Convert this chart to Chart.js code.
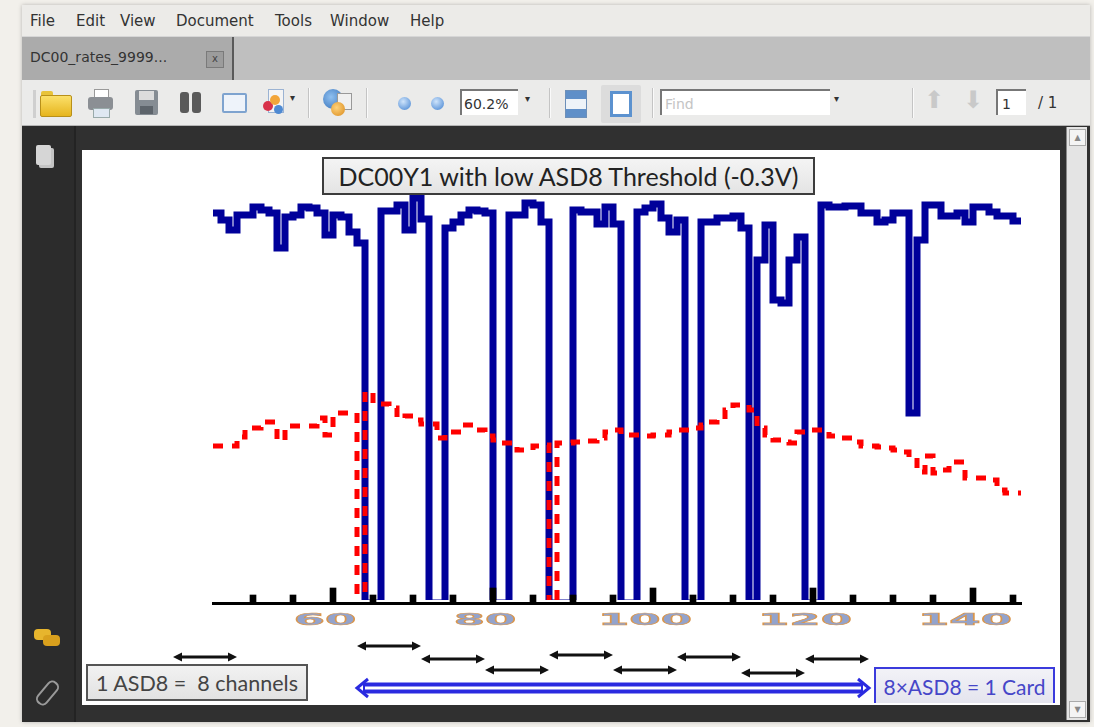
<!DOCTYPE html>
<html>
<head>
<meta charset="utf-8">
<script src="https://cdn.jsdelivr.net/npm/chart.js@4"></script>
<style>
  body { margin:0; width:1094px; height:727px; overflow:hidden; position:relative;
         background:#f2f0eb; font-family:"DejaVu Sans", sans-serif; }
  #win { position:absolute; left:22px; top:5px; width:1068px; height:717px; background:#303030;
         box-shadow:0 0 4px rgba(0,0,0,0.25); }
  #menu { position:absolute; left:0; top:0; width:100%; height:31px; background:#ecebe8;
          font-size:15px; color:#333; }
  #menu span { position:absolute; top:7px; }
  #tabs { position:absolute; left:0; top:31px; width:100%; height:43px; background:#bfbfbf;
          border-top:1px solid #d6d6d6; }
  #tab { position:absolute; left:0; top:0; width:210px; height:43px; background:#ababab;
         border-right:2px solid #5a5a5a; font-size:14px; color:#333; }
  #toolbar { position:absolute; left:0; top:75px; width:100%; height:45px; background:#ebebea;
             border-bottom:1px solid #b5b5b5; }
  .ab { position:absolute; }
  .sep { position:absolute; top:8px; width:1px; height:30px; background:#c4c4c4; border-right:1px solid #fafafa; }
  #side { position:absolute; left:0; top:121px; width:52px; height:596px; background:#2c2c2c;
          border-right:2px solid #232323; }
  #page { position:absolute; left:60px; top:145px; width:978px; height:555px; background:#fff; }
  .box { position:absolute; box-sizing:border-box; font-family:Lato, "Open Sans", sans-serif;
         display:flex; align-items:center; justify-content:center; white-space:nowrap; }
  #scroll { position:absolute; left:1044px; top:122px; width:20px; height:593px; background:#e4e4e4;
            border-left:1px solid #8a8a8a; }
</style>
</head>
<body>
<div id="win">
  <div id="menu">
    <span style="left:8px">File</span>
    <span style="left:54px">Edit</span>
    <span style="left:98px">View</span>
    <span style="left:154px">Document</span>
    <span style="left:253px">Tools</span>
    <span style="left:308px">Window</span>
    <span style="left:388px">Help</span>
  </div>
  <div id="tabs">
    <div id="tab">
      <span class="ab" style="left:8px;top:12px">DC00_rates_9999...</span>
      <div class="ab" style="left:184px;top:14px;width:16px;height:15px;background:#9c9c9c;border:1px solid #7a7a7a;font-size:10px;line-height:14px;text-align:center;color:#444">x</div>
    </div>
  </div>
  <div id="toolbar">
    <div class="ab" style="left:11px;top:10px;width:3px;height:28px;background:#cfcfcf"></div>
    <!-- folder -->
    <div class="ab" style="left:19px;top:11px;width:12px;height:5px;background:#e8c33a;border-radius:2px 2px 0 0"></div>
    <div class="ab" style="left:18px;top:15px;width:30px;height:20px;background:linear-gradient(#fbe06a,#e6b51e);border:1px solid #b8901a;border-radius:2px"></div>
    <!-- printer -->
    <div class="ab" style="left:72px;top:9px;width:13px;height:9px;background:#fff;border:1px solid #999"></div>
    <div class="ab" style="left:66px;top:17px;width:25px;height:13px;background:#8b8f94;border-radius:3px"></div>
    <div class="ab" style="left:71px;top:28px;width:15px;height:8px;background:#dfe8f2;border:1px solid #9aa"></div>
    <!-- save -->
    <div class="ab" style="left:113px;top:10px;width:23px;height:25px;background:#858c93;border-radius:2px"></div>
    <div class="ab" style="left:117px;top:11px;width:15px;height:9px;background:#dcdcdc"></div>
    <div class="ab" style="left:118px;top:26px;width:13px;height:8px;background:#5d646b"></div>
    <!-- binoculars -->
    <div class="ab" style="left:158px;top:12px;width:9px;height:21px;background:#5a5a5a;border-radius:3px"></div>
    <div class="ab" style="left:170px;top:12px;width:9px;height:21px;background:#5a5a5a;border-radius:3px"></div>
    <!-- mail -->
    <div class="ab" style="left:200px;top:13px;width:21px;height:16px;background:#eef3fa;border:2px solid #7ea3cf;border-radius:2px"></div>
    <!-- shapes -->
    <div class="ab" style="left:246px;top:9px;width:14px;height:22px;background:#f4f4f4;border:1px solid #9bb3d3"></div>
    <div class="ab" style="left:241px;top:21px;width:10px;height:10px;background:#d8324a;border-radius:50%"></div>
    <div class="ab" style="left:248px;top:15px;width:10px;height:10px;background:#f2a53a;border-radius:50%"></div>
    <div class="ab" style="left:252px;top:25px;width:9px;height:9px;background:#4f8ad2;border-radius:50%"></div>
    <span class="ab" style="left:268px;top:12px;font-size:10px;color:#333">&#9662;</span>
    <div class="sep" style="left:286px"></div>
    <!-- globe -->
    <div class="ab" style="left:301px;top:9px;width:20px;height:20px;background:radial-gradient(circle at 40% 40%,#8fc0f0,#2f6bb5);border-radius:50%"></div>
    <div class="ab" style="left:315px;top:13px;width:13px;height:15px;background:#f0f0f0;border:1px solid #999"></div>
    <div class="ab" style="left:309px;top:22px;width:14px;height:14px;background:radial-gradient(circle at 40% 40%,#ffd27a,#d98a1c);border-radius:50%"></div>
    <div class="sep" style="left:344px"></div>
    <div class="ab" style="left:376px;top:17px;width:13px;height:13px;background:radial-gradient(circle at 40% 35%,#cfe4fb,#3f80d0);border-radius:50%"></div>
    <div class="ab" style="left:409px;top:17px;width:13px;height:13px;background:radial-gradient(circle at 40% 35%,#cfe4fb,#3f80d0);border-radius:50%"></div>
    <div class="ab" style="left:438px;top:9px;width:58px;height:26px;background:#fff;border-top:2px solid #777;border-left:2px solid #777;font-size:14px;color:#333;line-height:26px;padding-left:2px;box-sizing:border-box">60.2%</div>
    <span class="ab" style="left:503px;top:13px;font-size:10px;color:#333">&#9662;</span>
    <div class="sep" style="left:527px"></div>
    <div class="ab" style="left:543px;top:10px;width:20px;height:26px;background:linear-gradient(#5f8fc8 0 30%,#eef3f8 30% 70%,#5f8fc8 70%);border:1px solid #6d8fb8"></div>
    <div class="ab" style="left:579px;top:5px;width:40px;height:38px;background:#dcdcdc;border-radius:2px"></div>
    <div class="ab" style="left:588px;top:11px;width:22px;height:26px;background:#fff;border:3px solid #5c92cf;box-sizing:border-box"></div>
    <div class="sep" style="left:630px"></div>
    <div class="ab" style="left:638px;top:9px;width:170px;height:26px;background:#fff;border-top:2px solid #777;border-left:2px solid #777;font-size:14px;color:#c4c4c4;line-height:26px;padding-left:3px;box-sizing:border-box">Find</div>
    <span class="ab" style="left:812px;top:13px;font-size:10px;color:#333">&#9662;</span>
    <div class="sep" style="left:890px"></div>
    <span class="ab" style="left:902px;top:6px;font-size:24px;color:#c9c9c9">&#11014;</span>
    <span class="ab" style="left:941px;top:6px;font-size:24px;color:#c9c9c9">&#11015;</span>
    <div class="ab" style="left:974px;top:9px;width:30px;height:26px;background:#fff;border-top:2px solid #777;border-left:2px solid #777;font-size:14px;color:#333;line-height:26px;padding-left:4px;box-sizing:border-box">1</div>
    <span class="ab" style="left:1016px;top:14px;font-size:15px;color:#333">/ 1</span>
  </div>
  <div id="side">
    <div class="ab" style="left:17px;top:22px;width:15px;height:20px;background:#c4c4c4;border-radius:2px"></div>
    <div class="ab" style="left:14px;top:19px;width:15px;height:20px;background:#d6d6d6;border-radius:2px"></div>
    <div class="ab" style="left:12px;top:503px;width:17px;height:11px;background:#e7b52d;border-radius:4px"></div>
    <div class="ab" style="left:21px;top:509px;width:17px;height:11px;background:#d9a01d;border-radius:4px"></div>
    <div class="ab" style="left:19px;top:553px;width:9px;height:24px;border:2px solid #9a9a9a;border-radius:6px;transform:rotate(40deg)"></div>
  </div>
  <div id="page">
    <div style="position:absolute;left:0;top:0;width:978px;height:555px">
      <canvas id="chart"></canvas>
    </div>
    <div class="box" style="left:240px;top:7px;width:493px;height:38px;border:2px solid #3c3c3c;background:linear-gradient(#f4f4f4,#e4e4e4);font-size:25px;color:#222">DC00Y1 with low ASD8 Threshold (-0.3V)</div>
    <div class="box" style="left:4px;top:514px;width:222px;height:37px;border:2px solid #555;background:linear-gradient(#f2f2f2,#e2e2e2);font-size:21.5px;color:#444">1 ASD8 =&nbsp; 8 channels</div>
    <div class="box" style="left:792px;top:517px;width:181px;height:36px;border:2px solid #3b3bdc;border-bottom:none;background:linear-gradient(#f2f2f7,#e4e4ee);font-size:21px;color:#4646c8">8&times;ASD8 = 1 Card</div>
  </div>
  <div id="scroll">
    <div class="ab" style="left:2px;top:2px;width:15px;height:15px;background:#f4f4f4;border:1px solid #aaa;font-size:8px;color:#888;text-align:center;line-height:15px">&#9650;</div>
    <div class="ab" style="left:2px;top:574px;width:15px;height:15px;background:#f4f4f4;border:1px solid #aaa;font-size:8px;color:#888;text-align:center;line-height:15px">&#9660;</div>
  </div>
</div>

<script>
// channel numbers (one bin per channel)
const channels = [
  45,46,47,48,49,50,51,52,53,54, 55,56,57,58,59,60,61,62,63,64,
  65,66,67,68,69,70,71,72,73,74, 75,76,77,78,79,80,81,82,83,84,
  85,86,87,88,89,90,91,92,93,94, 95,96,97,98,99,100,101,102,103,104,
  105,106,107,108,109,110,111,112,113,114, 115,116,117,118,119,120,121,122,123,124,
  125,126,127,128,129,130,131,132,133,134, 135,136,137,138,139,140,141,142,143,144,
  145
];

// rate with low threshold (blue)
const lowThrRate = [
  390,383,373,388,388,396,393,390,355,386,
  388,396,395,390,368,388,386,371,360,0,
  0,392,392,398,373,405,384,0,0,375,
  381,388,393,392,390,0,0,388,388,400,
  398,381,0,0,0,393,391,391,379,396,
  379,0,0,391,395,399,385,371,383,0,
  0,381,381,385,385,387,375,0,343,378,
  303,300,343,366,0,0,398,396,396,397,
  397,390,390,381,383,390,390,190,363,398,
  398,387,387,390,381,396,396,391,387,387,
  382
];

// reference rate (red, dashed)
const refRate = [
  157,157,157,166,175,175,181,181,163,177,
  177,177,177,185,168,190,190,190,0,211,
  199,199,195,185,187,183,179,179,165,171,
  171,178,178,173,167,163,160,160,153,153,
  157,158,0,160,160,161,162,162,165,171,
  173,168,168,168,167,168,168,171,173,173,
  175,178,181,183,193,198,198,193,175,168,
  163,161,160,171,173,173,173,167,165,165,
  161,157,157,156,155,153,151,145,131,147,
  130,133,141,141,125,125,125,123,113,110,
  110
];

// little black markers on the axis
const markerChannels = [50,55,60,65,70,75,80,85,90,95,100,105,110,115,120,125,130,135,140,145];
const markerHeights  = [8,8,15,8,8,8,15,8,8,8,15,8,8,8,15,8,8,8,15,8];

const tickValues = [60, 80, 100, 120, 140];

// ASD8 chip spans (channels) and how far below the axis each arrow sits
const asdFrom = [40, 63, 71, 79, 87, 95, 103, 111, 119];
const asdTo   = [48, 71, 79, 87, 95, 103, 111, 119, 127];
const asdRow  = [54, 43, 56, 67, 52, 67, 54, 70, 56];
const cardSpan = [63, 127];

function stepData(vals) {
  const pts = channels.map((c, i) => ({ x: c, y: vals[i] }));
  pts.push({ x: channels[channels.length - 1] + 1, y: vals[vals.length - 1] });
  return pts;
}

function arrowHead(ctx, x, y, dir) {
  ctx.beginPath();
  ctx.moveTo(x, y);
  ctx.lineTo(x + dir * 9, y - 4.5);
  ctx.lineTo(x + dir * 9, y + 4.5);
  ctx.closePath();
  ctx.fill();
}

const decor = {
  id: 'decor',
  afterDraw(chart) {
    const ctx = chart.ctx;
    const xs = chart.scales.x;
    const base = chart.chartArea.bottom;
    ctx.save();
    // stretched tick labels
    ctx.font = 'bold 15px "DejaVu Sans"';
    ctx.textAlign = 'center';
    ctx.textBaseline = 'middle';
    xs.ticks.forEach(t => {
      const px = xs.getPixelForValue(t.value) - 8;
      ctx.save();
      ctx.translate(px, base + 18);
      ctx.scale(3.0, 1);
      ctx.fillStyle = '#93a3cc';
      ctx.fillText(String(t.value), 0, 0);
      ctx.lineWidth = 0.6;
      ctx.strokeStyle = '#d9964e';
      ctx.strokeText(String(t.value), 0, 0);
      ctx.restore();
    });
    // black double arrows, one per ASD8
    ctx.strokeStyle = '#111';
    ctx.fillStyle = '#111';
    ctx.lineWidth = 3;
    asdFrom.forEach((a, i) => {
      const x0 = xs.getPixelForValue(a), x1 = xs.getPixelForValue(asdTo[i]);
      const y = base + asdRow[i];
      ctx.beginPath();
      ctx.moveTo(x0 + 4, y);
      ctx.lineTo(x1 - 4, y);
      ctx.stroke();
      arrowHead(ctx, x0, y, 1);
      arrowHead(ctx, x1, y, -1);
    });
    // blue hollow double arrow for the card
    const c0 = xs.getPixelForValue(cardSpan[0]), c1 = xs.getPixelForValue(cardSpan[1]);
    const cy = base + 85;
    ctx.strokeStyle = '#2a2ae0';
    ctx.lineWidth = 11;
    ctx.beginPath(); ctx.moveTo(c0 + 6, cy); ctx.lineTo(c1 - 6, cy); ctx.stroke();
    ctx.strokeStyle = '#ffffff';
    ctx.lineWidth = 3;
    ctx.beginPath(); ctx.moveTo(c0 + 8, cy); ctx.lineTo(c1 - 8, cy); ctx.stroke();
    ctx.strokeStyle = '#2a2ae0';
    ctx.lineWidth = 3;
    ctx.beginPath(); ctx.moveTo(c0 + 11, cy - 9); ctx.lineTo(c0, cy); ctx.lineTo(c0 + 11, cy + 9); ctx.stroke();
    ctx.beginPath(); ctx.moveTo(c1 - 11, cy - 9); ctx.lineTo(c1, cy); ctx.lineTo(c1 - 11, cy + 9); ctx.stroke();
    ctx.restore();
  }
};

const ctx = document.getElementById('chart').getContext('2d');
const rateChart = new Chart(ctx, {
  type: 'line',
  data: {
    datasets: [
      {
        type: 'bar',
        data: markerChannels.map((c, i) => ({ x: c, y: markerHeights[i] })),
        backgroundColor: '#000',
        barThickness: 6,
        order: 0
      },
      {
        data: stepData(refRate),
        borderColor: '#ff0000',
        borderWidth: 5,
        borderDash: [10, 9],
        stepped: 'before',
        pointRadius: 0,
        clip: { left: 5, top: 40, right: 5, bottom: -3 },
        order: 1
      },
      {
        data: stepData(lowThrRate),
        borderColor: '#00009a',
        borderWidth: 7,
        stepped: 'before',
        pointRadius: 0,
        clip: { left: 5, top: 40, right: 5, bottom: -3 },
        order: 2
      }
    ]
  },
  options: {
    responsive: true,
    maintainAspectRatio: false,
    animation: false,
    layout: { padding: { left: 131, right: 39, top: 33, bottom: 102 } },
    plugins: { legend: { display: false }, tooltip: { enabled: false } },
    scales: {
      x: {
        type: 'linear',
        min: 45,
        max: 146,
        offset: false,
        grid: { display: false, offset: false },
        border: { display: true, color: '#000', width: 3 },
        ticks: { display: false },
        afterBuildTicks: s => { s.ticks = tickValues.map(v => ({ value: v })); },
        afterFit: s => { s.height = 0; }
      },
      y: {
        display: false,
        min: 0,
        max: 420
      }
    }
  },
  plugins: [decor]
});
</script>
</body>
</html>
